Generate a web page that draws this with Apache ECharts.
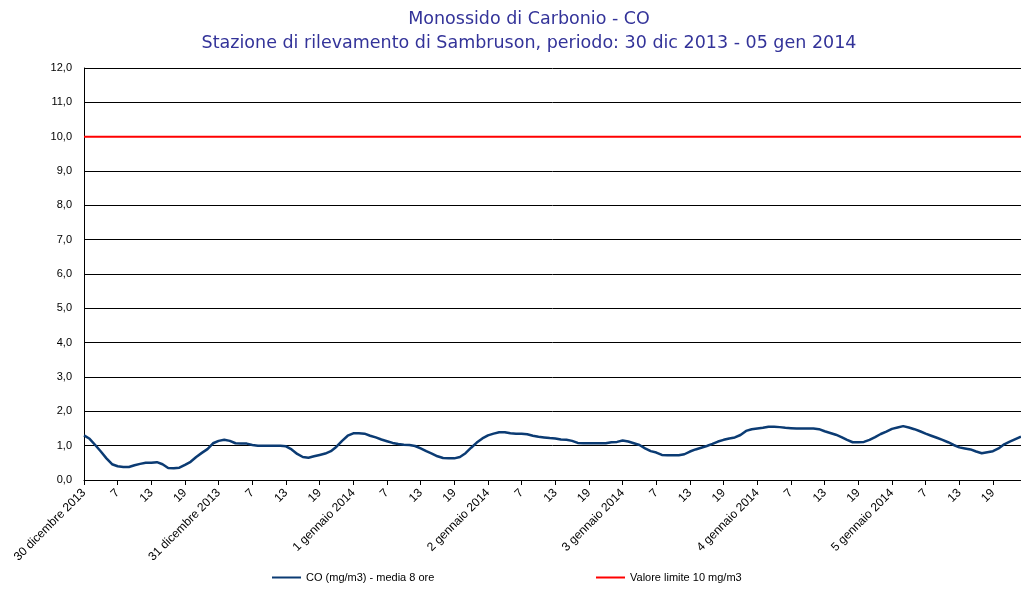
<!DOCTYPE html>
<html>
<head>
<meta charset="utf-8">
<title>Monossido di Carbonio - CO</title>
<script src="https://cdn.jsdelivr.net/npm/echarts@6/dist/echarts.min.js"></script>
<style>
    html, body { margin: 0; padding: 0; background: #fff; }
    #main { width: 1021px; height: 589px; }
</style>
</head>
<body>
<div id="main"></div>
<script>
// giorni del periodo e ore etichettate
var dayLabels = ['30 dicembre 2013', '31 dicembre 2013', '1 gennaio 2014', '2 gennaio 2014',
    '3 gennaio 2014', '4 gennaio 2014', '5 gennaio 2014'];
var hoursPerDay = 24;
var yTickLabels = ['0,0', '1,0', '2,0', '3,0', '4,0', '5,0', '6,0', '7,0', '8,0', '9,0', '10,0', '11,0', '12,0'];

// CO media mobile 8 ore (mg/m3), un valore per ora
var coValues = [
    1.30, 1.20, 1.02, 0.83, 0.63, 0.46, 0.40, 0.38, 0.38, 0.43, 0.47, 0.50,
    0.50, 0.52, 0.46, 0.35, 0.34, 0.36, 0.44, 0.53, 0.67, 0.79, 0.90, 1.07,
    1.14, 1.17, 1.14, 1.07, 1.06, 1.06, 1.02, 1.00, 1.00, 1.00, 1.00, 1.00,
    0.98, 0.89, 0.76, 0.67, 0.65, 0.69, 0.73, 0.77, 0.84, 0.97, 1.14, 1.29,
    1.36, 1.36, 1.35, 1.29, 1.24, 1.18, 1.13, 1.08, 1.05, 1.03, 1.02, 0.99,
    0.92, 0.84, 0.77, 0.69, 0.64, 0.63, 0.63, 0.67, 0.78, 0.94, 1.09, 1.21,
    1.30, 1.35, 1.39, 1.39, 1.36, 1.35, 1.35, 1.33, 1.29, 1.26, 1.24, 1.22,
    1.21, 1.18, 1.17, 1.14, 1.08, 1.07, 1.07, 1.07, 1.07, 1.07, 1.10, 1.11,
    1.15, 1.12, 1.07, 1.02, 0.92, 0.84, 0.80, 0.73, 0.72, 0.72, 0.72, 0.75,
    0.83, 0.89, 0.94, 0.99, 1.05, 1.12, 1.17, 1.21, 1.24, 1.31, 1.43, 1.48,
    1.50, 1.52, 1.55, 1.55, 1.54, 1.52, 1.51, 1.50, 1.50, 1.50, 1.50, 1.48,
    1.42, 1.37, 1.32, 1.25, 1.17, 1.10, 1.10, 1.11, 1.17, 1.25, 1.34, 1.41,
    1.49, 1.53, 1.57, 1.53, 1.48, 1.42, 1.35, 1.29, 1.23, 1.17, 1.10, 1.02,
    0.95, 0.92, 0.89, 0.83, 0.78, 0.81, 0.84, 0.92, 1.04, 1.12, 1.19, 1.26
];
var limitValue = 10;

var coName = 'CO (mg/m3) - media 8 ore';
var limitName = 'Valore limite 10 mg/m3';

// una categoria per ogni ora: "giorno|ora"
var categories = [];
dayLabels.forEach(function (d) {
    for (var h = 1; h <= hoursPerDay; h++) {
        categories.push(d + '|' + h);
    }
});

var myChart = echarts.init(document.getElementById('main'));
var fontFam = 'Liberation Sans, Arial, sans-serif';
var titleStyle = {
    color: '#333399',
    fontFamily: 'DejaVu Sans, sans-serif',
    fontWeight: 'normal',
    fontSize: 17.5
};
var legendText = {color: '#000', fontFamily: fontFam, fontSize: 11};
var option = {
    animation: false,
    backgroundColor: '#fff',
    title: [
        {
            text: 'Monossido di Carbonio - CO',
            left: 524,
            textAlign: 'center',
            top: 5,
            textStyle: titleStyle
        },
        {
            text: 'Stazione di rilevamento di Sambruson, periodo: 30 dic 2013 - 05 gen 2014',
            left: 524,
            textAlign: 'center',
            top: 29,
            textStyle: titleStyle
        }
    ],
    legend: [
        {
            data: [coName],
            left: 272,
            top: 572,
            padding: 0,
            icon: 'rect',
            itemWidth: 29,
            itemHeight: 2,
            textStyle: legendText
        },
        {
            data: [limitName],
            left: 596,
            top: 572,
            padding: 0,
            icon: 'rect',
            itemWidth: 29,
            itemHeight: 2,
            textStyle: legendText
        }
    ],
    grid: {
        left: 84,
        top: 68,
        width: 940,
        height: 412,
        containLabel: false
    },
    xAxis: {
        type: 'category',
        data: categories,
        boundaryGap: false,
        axisLine: {lineStyle: {color: '#000', width: 1}},
        axisTick: {
            interval: 5,
            length: 5,
            lineStyle: {color: '#000'}
        },
        axisLabel: {
            interval: 5,
            rotate: 45,
            margin: 11,
            color: '#000',
            fontFamily: fontFam,
            fontSize: 12,
            formatter: function (val) {
                var parts = val.split('|');
                return parts[1] === '1' ? parts[0] : parts[1];
            }
        },
        splitLine: {show: false}
    },
    yAxis: {
        type: 'value',
        min: 0,
        max: 12,
        interval: 1,
        axisLine: {show: true, lineStyle: {color: '#000', width: 1}},
        axisTick: {show: false},
        axisLabel: {
            margin: 12,
            color: '#000',
            fontFamily: fontFam,
            fontSize: 11,
            formatter: function (v) {
                return yTickLabels[Math.round(v)];
            }
        },
        splitLine: {lineStyle: {color: '#000', width: 1}}
    },
    series: [
        {
            name: coName,
            type: 'line',
            data: coValues,
            symbol: 'none',
            smooth: false,
            lineStyle: {color: '#0b3b73', width: 2.5},
            itemStyle: {color: '#0b3b73'},
            z: 3
        },
        {
            name: limitName,
            type: 'line',
            data: [[0, limitValue], [categories.length - 1, limitValue]],
            symbol: 'none',
            lineStyle: {color: '#ff0000', width: 2},
            itemStyle: {color: '#ff0000'},
            z: 2
        }
    ]
};
myChart.setOption(option);
</script>
</body>
</html>
